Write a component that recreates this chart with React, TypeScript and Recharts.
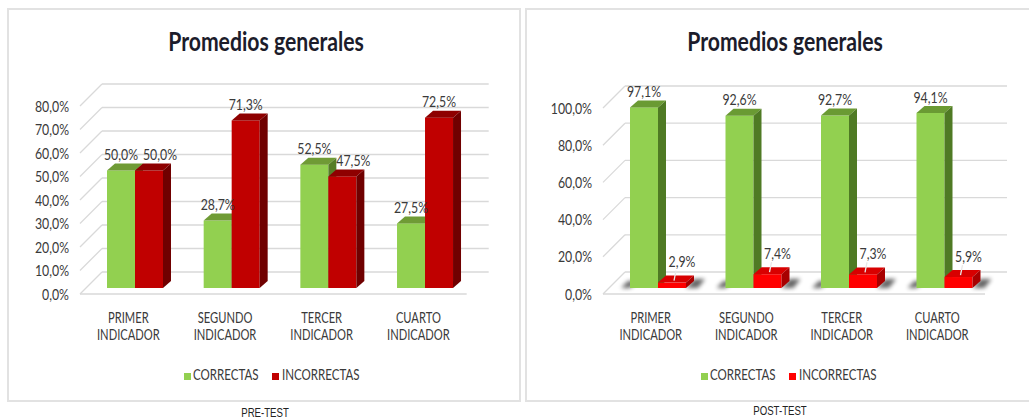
import React from 'react'
import { BarChart, Bar, XAxis, YAxis, CartesianGrid, LabelList } from 'recharts'

// data (percent)
const categories = ['PRIMER INDICADOR', 'SEGUNDO INDICADOR', 'TERCER INDICADOR', 'CUARTO INDICADOR']
const seriesNames = ['CORRECTAS', 'INCORRECTAS']
const preCorrectas = [50.0, 28.7, 52.5, 27.5]
const preIncorrectas = [50.0, 71.3, 47.5, 72.5]
const postCorrectas = [97.1, 92.6, 92.7, 94.1]
const postIncorrectas = [2.9, 7.4, 7.3, 5.9]
const preTicks = [0, 10, 20, 30, 40, 50, 60, 70, 80]
const postTicks = [0, 20, 40, 60, 80, 100]
const chartTitle = 'Promedios generales'
const captions = ['PRE-TEST', 'POST-TEST']

const FONT = 'Lato, "Open Sans", sans-serif'
const TEXT = '#3a3a3a'
const GRID = '#d9d9d9'
const SX = 0.77 // the source picture is squeezed horizontally

// 3D offsets relative to the bar plane
const DEPTH = { dx: 8, dy: -7 }
const FRONT = { dx: -7, dy: 6 }
const BACK = { dx: 15, dy: -16 }

const fmt = (v: number) => v.toFixed(1).replace('.', ',') + '%'

const buildRows = (a: number[], b: number[]) =>
  categories.map((c, i) => ({ name: c, correctas: a[i], incorrectas: b[i] }))

const preData = buildRows(preCorrectas, preIncorrectas)
const postData = buildRows(postCorrectas, postIncorrectas)

const colors = {
  pre: {
    green: { front: '#92d050', top: '#6f9b35', side: '#557d27' },
    red: { front: '#c00000', top: '#8e0000', side: '#700000' },
  },
  post: {
    green: { front: '#92d050', top: '#6a9a33', side: '#4f7a24' },
    red: { front: '#ff0000', top: '#d80000', side: '#a80000' },
  },
}

const make3DBar = (c: { front: string; top: string; side: string }, shadow?: 'left' | 'right') => (props: any) => {
  const { x, y, width: w, height: h } = props
  if (x == null || h == null) return null
  const { dx, dy } = DEPTH
  const b = y + h
  let sh = null
  if (shadow === 'left') {
    sh = <polygon points={`${x - 9},${b} ${x},${b} ${x + dx},${b + dy} ${x - 2},${b + dy}`} fill="#000" opacity={0.6} filter="url(#blurShadow)" />
  } else if (shadow === 'right') {
    sh = <polygon points={`${x + w},${b} ${x + w + 12},${b} ${x + w + 19},${b + dy - 2} ${x + w + dx},${b + dy - 2}`} fill="#000" opacity={0.6} filter="url(#blurShadow)" />
  }
  return (
    <g>
      {sh}
      <rect x={x} y={y} width={w} height={h} fill={c.front} />
      <polygon points={`${x},${y} ${x + dx},${y + dy} ${x + w + dx},${y + dy} ${x + w},${y}`} fill={c.top} />
      <polygon points={`${x + w},${y} ${x + w + dx},${y + dy} ${x + w + dx},${b + dy} ${x + w},${b}`} fill={c.side} />
    </g>
  )
}

const gridLine = (p: any) => {
  const { x1, x2, y1, key } = p
  const pts: number[] = p.horizontalPoints || []
  const floorY = pts.length ? Math.max(...pts) : p.y + p.height
  const isFloor = Math.abs(y1 - floorY) < 0.5
  return (
    <g key={key}>
      <line x1={x1 + BACK.dx} y1={y1 + BACK.dy} x2={x2 + BACK.dx} y2={y1 + BACK.dy} stroke={GRID} strokeWidth={1.3} />
      <line x1={x1 + FRONT.dx} y1={y1 + FRONT.dy} x2={x1 + BACK.dx} y2={y1 + BACK.dy} stroke={GRID} strokeWidth={1.3} />
      {isFloor && (
        <line x1={x1 + FRONT.dx} y1={y1 + FRONT.dy} x2={x2 + FRONT.dx} y2={y1 + FRONT.dy} stroke={GRID} strokeWidth={1.5} />
      )}
    </g>
  )
}

const ValueTick = (props: any) => {
  const { x, y, payload } = props
  return (
    <text
      transform={`translate(${x - 18},${y + FRONT.dy}) scale(${SX},1)`}
      textAnchor="end"
      dy="0.35em"
      fill={TEXT}
      fontSize={16}
      fontFamily={FONT}
    >
      {fmt(payload.value)}
    </text>
  )
}

const CategoryTick = (props: any) => {
  const { x, y, payload } = props
  const [a, b] = String(payload.value).split(' ')
  return (
    <g transform={`translate(${x + FRONT.dx},${y}) scale(${SX},1)`}>
      <text textAnchor="middle" fill={TEXT} fontSize={14.5} fontFamily={FONT}>
        <tspan x={0} y={35}>{a}</tspan>
        <tspan x={0} y={52}>{b}</tspan>
      </text>
    </g>
  )
}

// label renderer; other = values of the neighbour series to detect collisions
const makeLabel = (kind: 'green' | 'preRed' | 'postRed', other: number[]) => (p: any) => {
  const vb = p.viewBox || {}
  const x = p.x ?? vb.x
  const y = p.y ?? vb.y
  const w = p.width ?? vb.width
  const v = Number(p.value)
  const i = p.index ?? 0
  let cx = x + w / 2
  let cy = y - 16
  let leader = null
  if (kind === 'preRed' && Math.abs(v - other[i]) < 10) cx += 11
  if (kind === 'postRed') {
    cx += 10
    cy = y - 21
    leader = <line x1={x + w / 2 + 2} y1={y - 2} x2={cx - 6} y2={cy + 9} stroke="#e8e8e8" strokeWidth={1.3} />
  }
  return (
    <g>
      {leader}
      <text
        transform={`translate(${cx},${cy}) scale(${SX},1)`}
        textAnchor="middle"
        dy="0.35em"
        fill={TEXT}
        fontSize={16}
        fontFamily={FONT}
      >
        {fmt(v)}
      </text>
    </g>
  )
}

interface PanelProps {
  data: any[]
  ticks: number[]
  max: number
  width: number
  margin: { top: number; right: number; bottom: number; left: number }
  palette: typeof colors.pre
  post?: boolean
  greenVals: number[]
  redVals: number[]
}

function Panel({ data, ticks, max, width, margin, palette, post, greenVals, redVals }: PanelProps) {
  return (
    <BarChart width={width} height={392} data={data} margin={margin} barGap={0} barSize={28}>
      <defs>
        <filter id="blurShadow" x="-50%" y="-50%" width="200%" height="200%">
          <feGaussianBlur stdDeviation="2" />
        </filter>
      </defs>
      <CartesianGrid vertical={false} horizontal={gridLine} />
      <XAxis
        dataKey="name"
        axisLine={false}
        tickLine={false}
        tickSize={0}
        tickMargin={0}
        height={60}
        interval={0}
        tick={<CategoryTick />}
      />
      <YAxis
        domain={[0, max]}
        ticks={ticks}
        axisLine={false}
        tickLine={false}
        tickSize={0}
        tickMargin={0}
        width={60}
        tick={<ValueTick />}
      />
      <Bar dataKey="correctas" name={seriesNames[0]} isAnimationActive={false} shape={make3DBar(palette.green, post ? 'left' : undefined)}>
        <LabelList dataKey="correctas" content={makeLabel('green', redVals)} />
      </Bar>
      <Bar dataKey="incorrectas" name={seriesNames[1]} isAnimationActive={false} shape={make3DBar(palette.red, post ? 'right' : undefined)}>
        <LabelList dataKey="incorrectas" content={makeLabel(post ? 'postRed' : 'preRed', greenVals)} />
      </Bar>
    </BarChart>
  )
}

const Squeezed = ({ x, y, children, size, anchor = 'middle', weight = 400, family = FONT, fill = TEXT }: any) => (
  <text
    transform={`translate(${x},${y}) scale(${SX},1)`}
    textAnchor={anchor}
    fontSize={size}
    fontWeight={weight}
    fontFamily={family}
    fill={fill}
  >
    {children}
  </text>
)

function Legend({ cx, redColor }: { cx: number; redColor: string }) {
  return (
    <g>
      <rect x={cx - 85.5} y={373} width={7} height={7} fill="#92d050" />
      <Squeezed x={cx - 76.5} y={380} size={15} anchor="start">{seriesNames[0]}</Squeezed>
      <rect x={cx + 2.5} y={373} width={7} height={7} fill={redColor} />
      <Squeezed x={cx + 12.5} y={380} size={15} anchor="start">{seriesNames[1]}</Squeezed>
    </g>
  )
}

export default function App() {
  return (
    <div style={{ position: 'absolute', left: 0, top: 0, width: 1029, height: 420, overflow: 'hidden', background: '#fff' }}>
      <div style={{ position: 'absolute', left: 7, top: 8, width: 510, height: 390, border: '2px solid #e2e2e2' }} />
      <div style={{ position: 'absolute', left: 525, top: 8, width: 520, height: 390, border: '2px solid #e2e2e2' }} />

      <div style={{ position: 'absolute', left: 7, top: 8 }}>
        <Panel
          data={preData}
          ticks={preTicks}
          max={80}
          width={512}
          margin={{ top: 92, right: 45.3, bottom: 52, left: 20 }}
          palette={colors.pre}
          greenVals={preCorrectas}
          redVals={preIncorrectas}
        />
      </div>
      <div style={{ position: 'absolute', left: 525, top: 8 }}>
        <Panel
          data={postData}
          ticks={postTicks}
          max={100}
          width={504}
          margin={{ top: 94, right: 37, bottom: 52, left: 25 }}
          palette={colors.post}
          post
          greenVals={postCorrectas}
          redVals={postIncorrectas}
        />
      </div>

      <svg width={1029} height={420} style={{ position: 'absolute', left: 0, top: 0, pointerEvents: 'none' }}>
        <Squeezed x={266} y={51} size={27.5} weight={700} fill="#1c1c2b">{chartTitle}</Squeezed>
        <Squeezed x={785} y={51} size={27.5} weight={700} fill="#1c1c2b">{chartTitle}</Squeezed>
        <Legend cx={269.5} redColor="#c00000" />
        <Legend cx={786.5} redColor="#ff0000" />
        <Squeezed x={265} y={417} size={12.5} family='"Liberation Sans", Arial, sans-serif' fill="#222">{captions[0]}</Squeezed>
        <Squeezed x={780} y={415} size={12.5} family='"Liberation Sans", Arial, sans-serif' fill="#222">{captions[1]}</Squeezed>
      </svg>
    </div>
  )
}
